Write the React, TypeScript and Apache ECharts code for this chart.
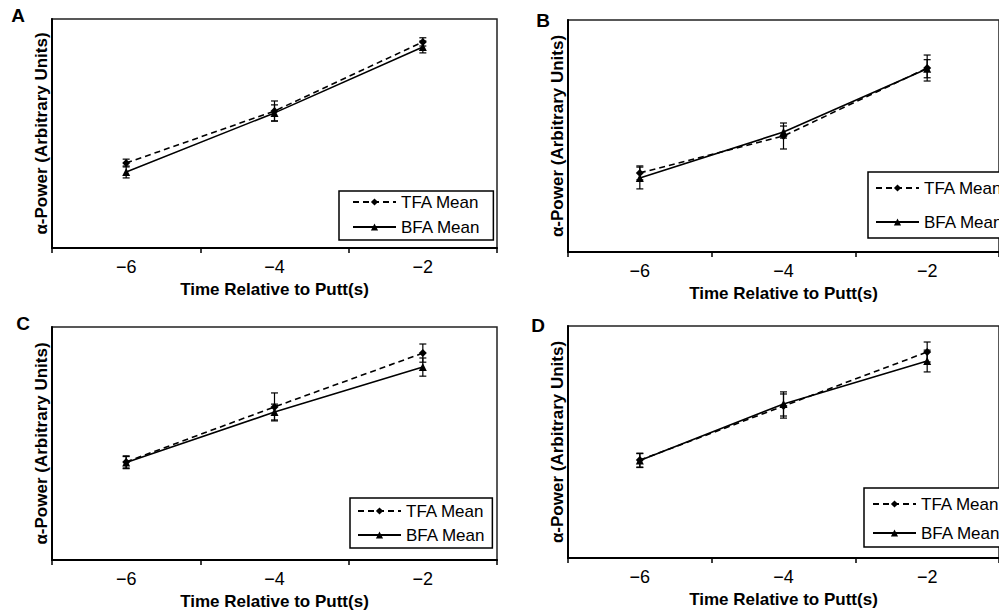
import { useEffect, useRef } from 'react';
import * as echarts from 'echarts';

// ---- data ----
const categories = ['−6', '−4', '−2'];
const seriesNames = ['TFA Mean', 'BFA Mean'];
const panelLetters = ['A', 'B', 'C', 'D'];
const xAxisTitle = 'Time Relative to Putt(s)';
const yAxisTitle = 'α-Power (Arbitrary Units)';

const tfaA = [37.1, 59.8, 90.0];
const tfaErrA = [1.7, 4.4, 1.8];
const bfaA = [33.2, 59.0, 87.8];
const bfaErrA = [2.6, 3.5, 2.6];

const tfaB = [34.1, 50.0, 79.3];
const tfaErrB = [3.0, 5.6, 5.6];
const bfaB = [31.9, 51.7, 79.0];
const bfaErrB = [4.7, 2.6, 3.9];

const tfaC = [42.1, 65.7, 88.8];
const tfaErrC = [2.6, 6.0, 3.9];
const bfaC = [41.8, 63.5, 82.8];
const bfaErrC = [2.6, 3.4, 3.9];

const tfaD = [42.2, 65.5, 88.8];
const tfaErrD = [3.0, 5.2, 4.3];
const bfaD = [42.0, 66.4, 84.9];
const bfaErrD = [3.0, 5.2, 4.7];

const FONT = '"Liberation Sans", Arial, Helvetica, sans-serif';

const panels = [
  {
    letter: panelLetters[0], tfa: tfaA, tfaErr: tfaErrA, bfa: bfaA, bfaErr: bfaErrA,
    grid: { left: 52, top: 19, width: 445, height: 229 },
    legend: { left: 339, top: 191, padding: [1, 13, 3, 13], itemGap: 5 },
    letterPos: [18, 15],
  },
  {
    letter: panelLetters[1], tfa: tfaB, tfaErr: tfaErrB, bfa: bfaB, bfaErr: bfaErrB,
    grid: { left: 568, top: 20, width: 445, height: 232 },
    legend: { left: 868, top: 172, padding: [6, 13, 6, 7], itemGap: 14 },
    letterPos: [543, 20],
  },
  {
    letter: panelLetters[2], tfa: tfaC, tfaErr: tfaErrC, bfa: bfaC, bfaErr: bfaErrC,
    grid: { left: 52, top: 327, width: 445, height: 233 },
    legend: { left: 350, top: 498, padding: [3, 7, 3, 7], itemGap: 4 },
    letterPos: [23, 323],
  },
  {
    letter: panelLetters[3], tfa: tfaD, tfaErr: tfaErrD, bfa: bfaD, bfaErr: bfaErrD,
    grid: { left: 568, top: 326, width: 445, height: 232 },
    legend: { left: 864, top: 488, padding: [6, 13, 4, 8], itemGap: 9 },
    letterPos: [538, 325],
  },
];

const errorBarItem = (_params: any, api: any) => {
  const x = api.value(0);
  const lo = api.coord([x, api.value(1)]);
  const hi = api.coord([x, api.value(2)]);
  const hw = 3.5;
  const style = { stroke: '#000', lineWidth: 1.2 };
  return {
    type: 'group',
    children: [
      { type: 'line', shape: { x1: lo[0], y1: lo[1], x2: hi[0], y2: hi[1] }, style },
      { type: 'line', shape: { x1: lo[0] - hw, y1: lo[1], x2: lo[0] + hw, y2: lo[1] }, style },
      { type: 'line', shape: { x1: hi[0] - hw, y1: hi[1], x2: hi[0] + hw, y2: hi[1] }, style },
    ],
  };
};

function buildOption() {
  const grid: any[] = [];
  const xAxis: any[] = [];
  const yAxis: any[] = [];
  const series: any[] = [];
  const legend: any[] = [];
  const graphic: any[] = [];

  panels.forEach((p, i) => {
    grid.push({
      ...p.grid,
      show: true,
      borderColor: '#222',
      borderWidth: 1.5,
      backgroundColor: 'transparent',
      containLabel: false,
    });
    xAxis.push({
      type: 'category',
      gridIndex: i,
      data: categories,
      boundaryGap: true,
      axisLine: { show: true, lineStyle: { color: '#000', width: 2 } },
      axisTick: { show: true, interval: 0, length: 5, lineStyle: { color: '#000', width: 1.5 } },
      axisLabel: { color: '#000', fontSize: 18, fontFamily: FONT, margin: 10 },
      splitLine: { show: false },
      name: xAxisTitle,
      nameLocation: 'middle',
      nameGap: 33,
      nameTextStyle: { color: '#000', fontSize: 17, fontWeight: 'bold', fontFamily: FONT },
    });
    yAxis.push({
      type: 'value',
      gridIndex: i,
      min: 0,
      max: 100,
      axisLine: { show: true, lineStyle: { color: '#000', width: 2 } },
      axisTick: { show: false },
      axisLabel: { show: false },
      splitLine: { show: false },
      name: yAxisTitle,
      nameLocation: 'middle',
      nameGap: 2,
      nameTextStyle: { color: '#000', fontSize: 17, fontWeight: 'bold', fontFamily: FONT },
    });

    const lineCommon = {
      type: 'line',
      xAxisIndex: i,
      yAxisIndex: i,
      symbolSize: 8,
      itemStyle: { color: '#000' },
      z: 3,
    };
    series.push({
      ...lineCommon,
      name: seriesNames[0],
      data: p.tfa,
      symbol: 'diamond',
      lineStyle: { color: '#000', width: 1.6, type: [6, 4] },
    });
    series.push({
      ...lineCommon,
      name: seriesNames[1],
      data: p.bfa,
      symbol: 'triangle',
      lineStyle: { color: '#000', width: 1.6, type: 'solid' },
    });
    [
      { mean: p.tfa, err: p.tfaErr, tag: 'TFA' },
      { mean: p.bfa, err: p.bfaErr, tag: 'BFA' },
    ].forEach((s) => {
      series.push({
        type: 'custom',
        name: `${s.tag} error ${p.letter}`,
        xAxisIndex: i,
        yAxisIndex: i,
        renderItem: errorBarItem,
        encode: { x: 0, y: [1, 2] },
        data: categories.map((_c, k) => [k, s.mean[k] - s.err[k], s.mean[k] + s.err[k]]),
        z: 2,
      });
    });

    legend.push({
      ...p.legend,
      orient: 'vertical',
      data: seriesNames,
      selectedMode: false,
      itemWidth: 43,
      itemHeight: 9,
      backgroundColor: '#fff',
      borderColor: '#000',
      borderWidth: 1.5,
      borderRadius: 0,
      textStyle: { color: '#000', fontSize: 17, fontFamily: FONT, lineHeight: 20 },
      z: 10,
    });

    graphic.push({
      type: 'text',
      x: p.letterPos[0],
      y: p.letterPos[1],
      style: {
        text: p.letter,
        fill: '#000',
        font: `bold 19px ${FONT}`,
        textAlign: 'center',
        textVerticalAlign: 'middle',
      },
    });
  });

  return {
    animation: false,
    backgroundColor: '#fff',
    textStyle: { fontFamily: FONT },
    grid,
    xAxis,
    yAxis,
    series,
    legend,
    graphic,
  };
}

export default function App() {
  const ref = useRef<HTMLDivElement>(null);
  useEffect(() => {
    if (!ref.current) return;
    const chart = echarts.init(ref.current, undefined, { renderer: 'svg' });
    chart.setOption(buildOption() as any);
    return () => chart.dispose();
  }, []);
  return (
    <div
      ref={ref}
      style={{ position: 'fixed', left: 0, top: 0, width: 999, height: 611, background: '#fff' }}
    />
  );
}
